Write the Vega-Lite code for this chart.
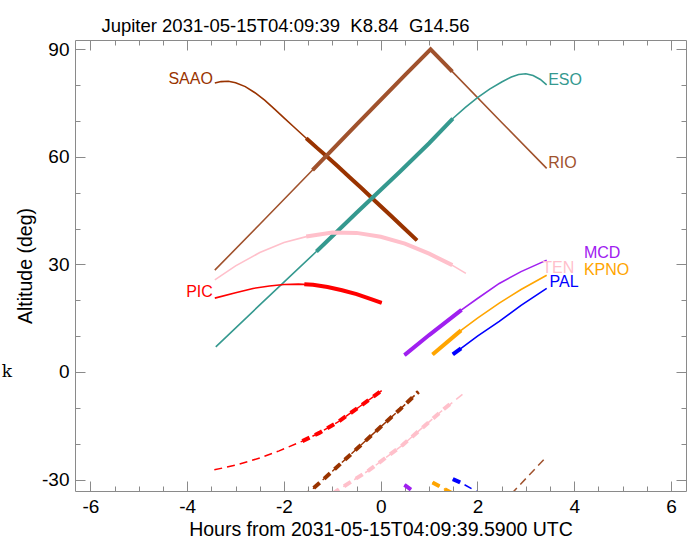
{
  "$schema": "https://vega.github.io/schema/vega-lite/v6.json",
  "width": 611,
  "height": 451,
  "autosize": "none",
  "padding": {"left": 75, "top": 40, "right": 10, "bottom": 50},
  "title": {
    "text": "Jupiter 2031-05-15T04:09:39\u00a0\u00a0K8.84\u00a0\u00a0G14.56",
    "font": "Liberation Sans",
    "fontSize": 18.5,
    "fontWeight": "normal",
    "color": "#000000",
    "anchor": "middle",
    "dx": -95,
    "dy": 22,
    "baseline": "alphabetic",
    "offset": 11
  },
  "config": {
    "view": {"stroke": "#8a8a8a", "strokeWidth": 1},
    "axis": {
      "grid": false,
      "domain": false,
      "tickColor": "#8a8a8a",
      "tickWidth": 1,
      "labelFont": "Liberation Sans",
      "titleFont": "Liberation Sans",
      "labelFontSize": 19,
      "titleFontSize": 19.5,
      "titleFontWeight": "normal",
      "labelColor": "#000000",
      "titleColor": "#000000",
      "labelFlush": false,
      "labelOverlap": false
    }
  },
  "datasets": {
    "sol": [
      {"o": "SAAO", "h": -3.43, "a": 80.6}, {"o": "SAAO", "h": -3.3, "a": 81.0}, {"o": "SAAO", "h": -3.15, "a": 81.1}, {"o": "SAAO", "h": -3.0, "a": 80.7}, {"o": "SAAO", "h": -2.8, "a": 79.6}, {"o": "SAAO", "h": -2.6, "a": 77.9}, {"o": "SAAO", "h": -2.4, "a": 75.8}, {"o": "SAAO", "h": -2.2, "a": 73.4}, {"o": "SAAO", "h": -2.0, "a": 70.9}, {"o": "SAAO", "h": -1.8, "a": 68.4}, {"o": "SAAO", "h": -1.54, "a": 65.2}, {"o": "SAAO", "h": -1.3, "a": 62.3}, {"o": "SAAO", "h": -1.13, "a": 60.3}, {"o": "SAAO", "h": -0.9, "a": 57.5}, {"o": "SAAO", "h": -0.65, "a": 54.4}, {"o": "SAAO", "h": -0.4, "a": 51.3}, {"o": "SAAO", "h": -0.1, "a": 47.5}, {"o": "SAAO", "h": 0.2, "a": 43.7}, {"o": "SAAO", "h": 0.5, "a": 39.9}, {"o": "SAAO", "h": 0.75, "a": 36.7},
      {"o": "RIO", "h": -3.43, "a": 28.4}, {"o": "RIO", "h": -2.5, "a": 41.2}, {"o": "RIO", "h": -1.5, "a": 55.1}, {"o": "RIO", "h": -0.5, "a": 69.0}, {"o": "RIO", "h": 0.5, "a": 82.8}, {"o": "RIO", "h": 1.03, "a": 90.0}, {"o": "RIO", "h": 1.5, "a": 83.5}, {"o": "RIO", "h": 2.5, "a": 69.6}, {"o": "RIO", "h": 3.43, "a": 56.8},
      {"o": "ESO", "h": -3.41, "a": 7.0}, {"o": "ESO", "h": -2.5, "a": 18.7}, {"o": "ESO", "h": -1.33, "a": 33.6}, {"o": "ESO", "h": -0.5, "a": 44.4}, {"o": "ESO", "h": 0.39, "a": 55.8}, {"o": "ESO", "h": 1.0, "a": 63.8}, {"o": "ESO", "h": 1.49, "a": 70.7}, {"o": "ESO", "h": 1.75, "a": 73.8}, {"o": "ESO", "h": 2.0, "a": 76.5}, {"o": "ESO", "h": 2.25, "a": 78.9}, {"o": "ESO", "h": 2.5, "a": 80.9}, {"o": "ESO", "h": 2.7, "a": 82.3}, {"o": "ESO", "h": 2.85, "a": 83.0}, {"o": "ESO", "h": 3.0, "a": 83.2}, {"o": "ESO", "h": 3.15, "a": 82.7}, {"o": "ESO", "h": 3.3, "a": 81.6}, {"o": "ESO", "h": 3.43, "a": 80.1},
      {"o": "TEN", "h": -3.43, "a": 25.7}, {"o": "TEN", "h": -3.0, "a": 29.6}, {"o": "TEN", "h": -2.5, "a": 33.3}, {"o": "TEN", "h": -2.0, "a": 36.1}, {"o": "TEN", "h": -1.5, "a": 37.9}, {"o": "TEN", "h": -1.0, "a": 38.9}, {"o": "TEN", "h": -0.5, "a": 38.8}, {"o": "TEN", "h": 0.0, "a": 37.7}, {"o": "TEN", "h": 0.5, "a": 35.8}, {"o": "TEN", "h": 1.0, "a": 33.0}, {"o": "TEN", "h": 1.5, "a": 29.6}, {"o": "TEN", "h": 1.76, "a": 27.5},
      {"o": "PIC", "h": -3.43, "a": 20.6}, {"o": "PIC", "h": -3.0, "a": 22.1}, {"o": "PIC", "h": -2.64, "a": 23.3}, {"o": "PIC", "h": -2.3, "a": 24.0}, {"o": "PIC", "h": -2.0, "a": 24.4}, {"o": "PIC", "h": -1.7, "a": 24.5}, {"o": "PIC", "h": -1.4, "a": 24.3}, {"o": "PIC", "h": -1.1, "a": 23.7}, {"o": "PIC", "h": -0.8, "a": 22.8}, {"o": "PIC", "h": -0.5, "a": 21.7}, {"o": "PIC", "h": -0.2, "a": 20.3}, {"o": "PIC", "h": 0.02, "a": 19.3},
      {"o": "MCD", "h": 0.49, "a": 4.7}, {"o": "MCD", "h": 1.0, "a": 10.3}, {"o": "MCD", "h": 1.67, "a": 17.3}, {"o": "MCD", "h": 2.0, "a": 20.5}, {"o": "MCD", "h": 2.45, "a": 24.7}, {"o": "MCD", "h": 2.9, "a": 28.0}, {"o": "MCD", "h": 3.43, "a": 31.2},
      {"o": "KPNO", "h": 1.07, "a": 4.9}, {"o": "KPNO", "h": 1.66, "a": 11.6}, {"o": "KPNO", "h": 2.0, "a": 15.0}, {"o": "KPNO", "h": 2.45, "a": 19.2}, {"o": "KPNO", "h": 2.9, "a": 23.0}, {"o": "KPNO", "h": 3.43, "a": 27.0},
      {"o": "PAL", "h": 1.49, "a": 4.9}, {"o": "PAL", "h": 1.66, "a": 6.6}, {"o": "PAL", "h": 2.0, "a": 10.0}, {"o": "PAL", "h": 2.45, "a": 14.1}, {"o": "PAL", "h": 2.9, "a": 18.6}, {"o": "PAL", "h": 3.43, "a": 23.3}
    ],
    "solk": [
      {"o": "SAAO", "h": -1.54, "a": 65.2}, {"o": "SAAO", "h": -1.3, "a": 62.3}, {"o": "SAAO", "h": -1.13, "a": 60.3}, {"o": "SAAO", "h": -0.9, "a": 57.5}, {"o": "SAAO", "h": -0.65, "a": 54.4}, {"o": "SAAO", "h": -0.4, "a": 51.3}, {"o": "SAAO", "h": -0.1, "a": 47.5}, {"o": "SAAO", "h": 0.2, "a": 43.7}, {"o": "SAAO", "h": 0.5, "a": 39.9}, {"o": "SAAO", "h": 0.75, "a": 36.7},
      {"o": "RIO", "h": -1.41, "a": 56.3}, {"o": "RIO", "h": -0.5, "a": 69.0}, {"o": "RIO", "h": 0.5, "a": 82.8}, {"o": "RIO", "h": 1.03, "a": 90.0}, {"o": "RIO", "h": 1.48, "a": 83.8},
      {"o": "ESO", "h": -1.33, "a": 33.6}, {"o": "ESO", "h": -0.5, "a": 44.4}, {"o": "ESO", "h": 0.39, "a": 55.8}, {"o": "ESO", "h": 1.0, "a": 63.8}, {"o": "ESO", "h": 1.49, "a": 70.7},
      {"o": "TEN", "h": -1.54, "a": 37.8}, {"o": "TEN", "h": -1.0, "a": 38.9}, {"o": "TEN", "h": -0.5, "a": 38.8}, {"o": "TEN", "h": 0.0, "a": 37.7}, {"o": "TEN", "h": 0.5, "a": 35.8}, {"o": "TEN", "h": 1.0, "a": 33.0}, {"o": "TEN", "h": 1.48, "a": 29.8},
      {"o": "PIC", "h": -1.58, "a": 24.5}, {"o": "PIC", "h": -1.4, "a": 24.3}, {"o": "PIC", "h": -1.1, "a": 23.7}, {"o": "PIC", "h": -0.8, "a": 22.8}, {"o": "PIC", "h": -0.5, "a": 21.7}, {"o": "PIC", "h": -0.2, "a": 20.3}, {"o": "PIC", "h": 0.02, "a": 19.3},
      {"o": "MCD", "h": 0.49, "a": 4.7}, {"o": "MCD", "h": 1.0, "a": 10.3}, {"o": "MCD", "h": 1.67, "a": 17.3},
      {"o": "KPNO", "h": 1.07, "a": 4.9}, {"o": "KPNO", "h": 1.66, "a": 11.6},
      {"o": "PAL", "h": 1.49, "a": 4.9}, {"o": "PAL", "h": 1.66, "a": 6.6}
    ],
    "dsh": [
      {"o": "PIC", "h": -3.44, "a": -27.3}, {"o": "PIC", "h": -3.0, "a": -26.0}, {"o": "PIC", "h": -2.5, "a": -24.0}, {"o": "PIC", "h": -2.1, "a": -22.0}, {"o": "PIC", "h": -1.62, "a": -19.3}, {"o": "PIC", "h": -1.27, "a": -17.0}, {"o": "PIC", "h": -0.89, "a": -14.0}, {"o": "PIC", "h": -0.44, "a": -9.7}, {"o": "PIC", "h": 0.02, "a": -5.2},
      {"o": "SAAO", "h": -1.6, "a": -35.0}, {"o": "SAAO", "h": -1.0, "a": -27.7}, {"o": "SAAO", "h": -0.5, "a": -21.5}, {"o": "SAAO", "h": 0.0, "a": -15.3}, {"o": "SAAO", "h": 0.4, "a": -10.4}, {"o": "SAAO", "h": 0.78, "a": -5.5},
      {"o": "TEN", "h": -1.0, "a": -34.0}, {"o": "TEN", "h": -0.89, "a": -33.0}, {"o": "TEN", "h": -0.24, "a": -27.4}, {"o": "TEN", "h": 0.45, "a": -20.4}, {"o": "TEN", "h": 1.24, "a": -11.1}, {"o": "TEN", "h": 1.76, "a": -5.5},
      {"o": "RIO", "h": 2.7, "a": -34.0}, {"o": "RIO", "h": 3.43, "a": -23.6},
      {"o": "MCD", "h": 0.49, "a": -31.5}, {"o": "MCD", "h": 0.8, "a": -34.5},
      {"o": "KPNO", "h": 1.07, "a": -30.8}, {"o": "KPNO", "h": 1.5, "a": -34.0},
      {"o": "PAL", "h": 1.49, "a": -29.9}, {"o": "PAL", "h": 1.66, "a": -30.9}, {"o": "PAL", "h": 1.95, "a": -33.1}, {"o": "PAL", "h": 2.05, "a": -33.8}
    ],
    "dshk": [
      {"o": "PIC", "h": -1.62, "a": -19.3}, {"o": "PIC", "h": -1.27, "a": -17.0}, {"o": "PIC", "h": -0.89, "a": -14.0}, {"o": "PIC", "h": -0.44, "a": -9.7}, {"o": "PIC", "h": 0.02, "a": -5.2},
      {"o": "SAAO", "h": -1.6, "a": -35.0}, {"o": "SAAO", "h": -1.0, "a": -27.7}, {"o": "SAAO", "h": -0.5, "a": -21.5}, {"o": "SAAO", "h": 0.0, "a": -15.3}, {"o": "SAAO", "h": 0.4, "a": -10.4}, {"o": "SAAO", "h": 0.78, "a": -5.5},
      {"o": "TEN", "h": -1.0, "a": -34.0}, {"o": "TEN", "h": -0.89, "a": -33.0}, {"o": "TEN", "h": -0.24, "a": -27.4}, {"o": "TEN", "h": 0.45, "a": -20.4}, {"o": "TEN", "h": 1.24, "a": -11.1}, {"o": "TEN", "h": 1.48, "a": -8.4},
      {"o": "MCD", "h": 0.49, "a": -31.5}, {"o": "MCD", "h": 0.8, "a": -34.5},
      {"o": "KPNO", "h": 1.07, "a": -30.8}, {"o": "KPNO", "h": 1.5, "a": -34.0},
      {"o": "PAL", "h": 1.49, "a": -29.9}, {"o": "PAL", "h": 1.66, "a": -30.9}
    ],
    "lab": [
      {"o": "SAAO", "h": -3.47, "a": 81.7, "side": "r"},
      {"o": "PIC", "h": -3.47, "a": 22.3, "side": "r"},
      {"o": "ESO", "h": 3.46, "a": 81.5, "side": "l"},
      {"o": "RIO", "h": 3.46, "a": 58.2, "side": "l"},
      {"o": "TEN", "h": 3.34, "a": 29.0, "side": "l"},
      {"o": "MCD", "h": 4.2, "a": 33.1, "side": "l"},
      {"o": "KPNO", "h": 4.2, "a": 28.5, "side": "l"},
      {"o": "PAL", "h": 3.49, "a": 25.0, "side": "l"}
    ],
    "kk": [{"h": -7.73, "a": -1.4, "t": "k"}]
  },
  "layer": [
    {
      "mark": {"type": "rule", "color": "#8a8a8a", "strokeWidth": 1},
      "encoding": {
        "y": {"datum": 0, "type": "quantitative", "scale": {"domain": [-33.2, 92.6], "nice": false, "zero": false}, "axis": null}
      }
    },
    {
      "data": {"name": "sol"},
      "mark": {"type": "line", "strokeWidth": 1.6, "clip": true},
      "encoding": {
        "x": {"field": "h", "type": "quantitative", "scale": {"domain": [-6.32, 6.31], "nice": false, "zero": false},
              "axis": {"orient": "bottom", "values": [-6, -4, -2, 0, 2, 4, 6], "tickSize": -10, "labelPadding": 16, "labelExpr": "replace(datum.label, '\u2212', '-')", "title": "Hours from 2031-05-15T04:09:39.5900 UTC", "titlePadding": 4}},
        "y": {"field": "a", "type": "quantitative", "scale": {"domain": [-33.2, 92.6], "nice": false, "zero": false},
              "axis": {"orient": "left", "values": [-30, 0, 30, 60, 90], "tickSize": -10, "labelPadding": 16, "labelExpr": "replace(datum.label, '\u2212', '-')", "title": "Altitude (deg)", "titlePadding": 6}},
        "color": {"field": "o", "type": "nominal", "legend": null,
                  "scale": {"domain": ["SAAO", "RIO", "ESO", "TEN", "PIC", "MCD", "KPNO", "PAL"], "range": ["#993300", "#a0522d", "#35998f", "#ffc0cb", "#ff0000", "#a020f0", "#ffa500", "#0000ff"]}}
      }
    },
    {
      "data": {"name": "solk"},
      "mark": {"type": "line", "strokeWidth": 4, "clip": true},
      "encoding": {
        "x": {"field": "h", "type": "quantitative", "scale": {"domain": [-6.32, 6.31], "nice": false, "zero": false},
              "axis": {"orient": "bottom", "values": [-6, -5.5, -5, -4.5, -4, -3.5, -3, -2.5, -2, -1.5, -1, -0.5, 0, 0.5, 1, 1.5, 2, 2.5, 3, 3.5, 4, 4.5, 5, 5.5, 6], "tickSize": -5, "labels": false, "title": null}},
        "y": {"field": "a", "type": "quantitative", "scale": {"domain": [-33.2, 92.6], "nice": false, "zero": false},
              "axis": {"orient": "left", "values": [-30, -20, -10, 0, 10, 20, 30, 40, 50, 60, 70, 80, 90], "tickSize": -5, "labels": false, "title": null}},
        "color": {"field": "o", "type": "nominal", "legend": null}
      }
    },
    {
      "data": {"name": "dsh"},
      "mark": {"type": "line", "strokeWidth": 1.5, "strokeDash": [8, 5], "clip": true},
      "encoding": {
        "x": {"field": "h", "type": "quantitative", "scale": {"domain": [-6.32, 6.31], "nice": false, "zero": false},
              "axis": {"orient": "top", "values": [-6, -4, -2, 0, 2, 4, 6], "tickSize": -10, "labels": false, "title": null}},
        "y": {"field": "a", "type": "quantitative", "scale": {"domain": [-33.2, 92.6], "nice": false, "zero": false},
              "axis": {"orient": "right", "values": [-30, 0, 30, 60, 90], "tickSize": -10, "labels": false, "title": null}},
        "color": {"field": "o", "type": "nominal", "legend": null}
      }
    },
    {
      "data": {"name": "dshk"},
      "mark": {"type": "line", "strokeWidth": 4, "strokeDash": [8, 6], "clip": true},
      "encoding": {
        "x": {"field": "h", "type": "quantitative", "scale": {"domain": [-6.32, 6.31], "nice": false, "zero": false},
              "axis": {"orient": "top", "values": [-6, -5.5, -5, -4.5, -4, -3.5, -3, -2.5, -2, -1.5, -1, -0.5, 0, 0.5, 1, 1.5, 2, 2.5, 3, 3.5, 4, 4.5, 5, 5.5, 6], "tickSize": -5, "labels": false, "title": null}},
        "y": {"field": "a", "type": "quantitative", "scale": {"domain": [-33.2, 92.6], "nice": false, "zero": false},
              "axis": {"orient": "right", "values": [-30, -20, -10, 0, 10, 20, 30, 40, 50, 60, 70, 80, 90], "tickSize": -5, "labels": false, "title": null}},
        "color": {"field": "o", "type": "nominal", "legend": null}
      }
    },
    {
      "data": {"name": "lab"},
      "transform": [{"filter": "datum.side == 'r'"}],
      "mark": {"type": "text", "align": "right", "baseline": "middle", "font": "Liberation Sans", "fontSize": 16},
      "encoding": {
        "x": {"field": "h", "type": "quantitative", "axis": null},
        "y": {"field": "a", "type": "quantitative", "axis": null},
        "text": {"field": "o"},
        "color": {"field": "o", "type": "nominal", "legend": null}
      }
    },
    {
      "data": {"name": "lab"},
      "transform": [{"filter": "datum.side == 'l'"}],
      "mark": {"type": "text", "align": "left", "baseline": "middle", "font": "Liberation Sans", "fontSize": 16},
      "encoding": {
        "x": {"field": "h", "type": "quantitative", "axis": null},
        "y": {"field": "a", "type": "quantitative", "axis": null},
        "text": {"field": "o"},
        "color": {"field": "o", "type": "nominal", "legend": null}
      }
    },
    {
      "data": {"name": "kk"},
      "mark": {"type": "text", "align": "center", "baseline": "alphabetic", "font": "DejaVu Serif", "fontSize": 17, "color": "#000000", "clip": false},
      "encoding": {
        "x": {"field": "h", "type": "quantitative", "axis": null},
        "y": {"field": "a", "type": "quantitative", "axis": null},
        "text": {"field": "t"}
      }
    }
  ],
  "resolve": {"axis": {"x": "independent", "y": "independent"}}
}
